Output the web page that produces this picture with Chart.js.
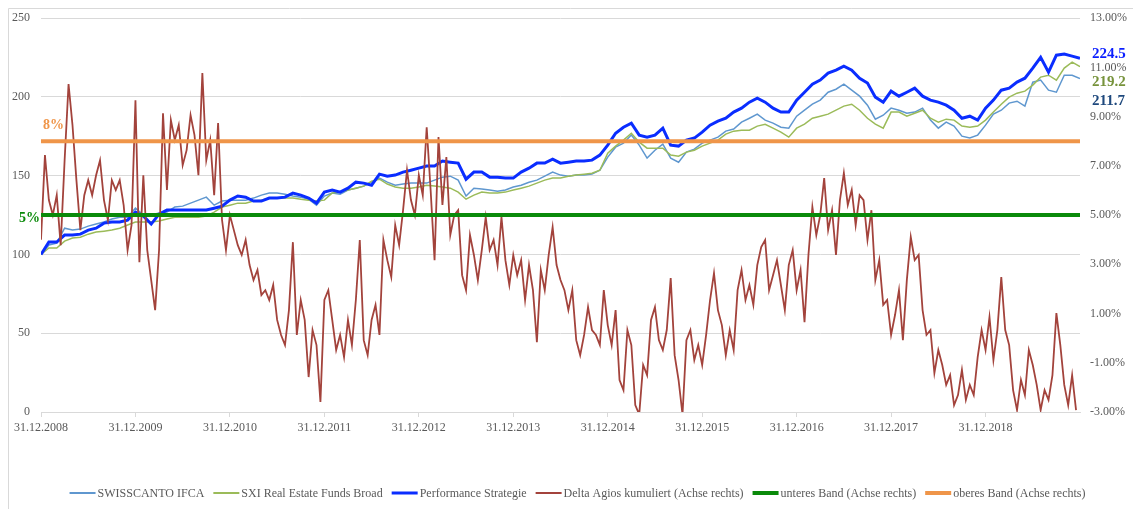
<!DOCTYPE html>
<html>
<head>
<meta charset="utf-8">
<script src="https://cdn.jsdelivr.net/npm/chart.js@4/dist/chart.umd.min.js"></script>
<style>
  html, body { margin: 0; padding: 0; background: #fff; }
  canvas { display: block; }
</style>
</head>
<body>
<canvas id="chart" width="1133" height="509"></canvas>
<script>
// year ticks on the x axis (years after 31.12.2008)
const xTickLabels = ['31.12.2008', '31.12.2009', '31.12.2010', '31.12.2011', '31.12.2012', '31.12.2013',
    '31.12.2014', '31.12.2015', '31.12.2016', '31.12.2017', '31.12.2018'];
const xEnd = 11;

// monthly index values (left axis)
const swisscanto = [
    100, 106.0, 107.2, 116.7, 115.5, 116.1, 118.0, 119.3, 120.6, 122.5, 123.7, 123.7,
    129.4, 125.0, 125.0, 126.3, 126.9, 130.1, 130.7, 132.6, 134.5, 136.4, 131.3, 133.9,
    134.5, 134.5, 134.5, 135.8, 137.7, 139.0, 139.0, 138.3, 137.1, 136.4, 135.1, 131.3,
    137.1, 139.0, 138.3, 140.9, 142.1, 143.4, 145.9, 148.5, 145.9, 144.0, 144.7, 145.3,
    145.3, 145.3, 147.2, 149.1, 149.7, 147.2, 137.1, 142.1, 141.5, 140.9, 140.2, 140.9,
    142.8, 144.0, 145.9, 147.2, 149.7, 152.3, 150.4, 149.7, 150.4, 150.4, 151.0, 153.5,
    161.8, 168.1, 170.7, 175.8, 169.4, 161.2, 166.2, 170.0, 161.2, 158.6, 165.0, 166.9,
    170.7, 172.6, 174.5, 178.3, 179.6, 184.0, 186.5, 189.1, 185.3, 183.4, 180.8, 180.2,
    187.8, 191.6, 195.4, 198.0, 203.0, 204.9, 208.1, 204.3, 200.5, 194.8, 185.9, 188.4,
    192.9, 191.6, 189.7, 190.4, 192.9, 185.3, 180.2, 184.0, 181.5, 175.1, 173.9, 175.8,
    182.1, 189.1, 191.6, 196.1, 197.3, 194.2, 209.4, 210.7, 204.3, 203.0, 213.8, 213.8,
    211.7
];
const sxiBroad = [
    100, 104.1, 104.1, 108.5, 110.4, 111.0, 112.9, 114.2, 114.8, 115.5, 116.7, 118.7,
    120.6, 120.6, 120.6, 121.2, 122.5, 123.7, 123.7, 123.7, 123.7, 124.4, 126.9, 130.1,
    131.3, 132.6, 132.6, 133.9, 134.5, 135.8, 135.8, 135.8, 135.8, 135.1, 134.5, 133.9,
    134.5, 139.0, 139.6, 140.9, 142.1, 143.4, 146.6, 147.8, 144.7, 142.8, 142.1, 142.1,
    142.8, 144.0, 143.4, 142.8, 142.1, 139.6, 135.1, 137.7, 139.6, 139.0, 139.0, 139.6,
    140.9, 142.1, 143.4, 145.3, 147.2, 148.5, 148.5, 149.7, 150.4, 151.0, 151.6, 153.5,
    164.3, 168.8, 172.6, 177.0, 171.3, 167.5, 167.5, 167.5, 163.1, 162.4, 165.0, 166.2,
    168.8, 170.7, 172.6, 176.4, 178.3, 178.9, 178.9, 181.5, 182.7, 180.2, 177.7, 174.5,
    180.2, 182.7, 186.5, 187.8, 189.1, 191.6, 194.2, 195.4, 191.6, 186.5, 182.7, 180.2,
    190.4, 190.4, 187.8, 189.7, 191.6, 186.5, 184.0, 185.9, 185.3, 181.5, 180.8, 181.5,
    185.3, 190.4, 195.4, 199.9, 202.4, 203.7, 207.5, 212.6, 213.8, 210.7, 218.3, 222.1,
    219.2
];
const performance = [
    100, 107.9, 107.9, 112.3, 112.3, 112.9, 115.5, 116.7, 119.9, 120.6, 120.6, 121.8,
    126.9, 124.4, 119.3, 125.6, 128.2, 128.2, 128.2, 128.2, 128.2, 128.2, 129.4, 130.7,
    134.5, 137.1, 136.4, 133.9, 133.9, 135.8, 135.8, 136.4, 139.0, 137.7, 135.8, 132.6,
    139.6, 140.9, 139.6, 142.1, 145.9, 145.3, 144.0, 151.0, 149.7, 150.4, 152.3, 153.5,
    154.8, 156.1, 156.1, 159.3, 158.6, 158.0, 147.8, 152.3, 152.3, 149.1, 149.1, 148.5,
    148.5, 152.3, 154.8, 158.0, 158.0, 160.5, 158.0, 158.6, 159.3, 159.3, 159.9, 163.1,
    169.4, 177.0, 180.8, 183.4, 175.8, 174.5, 175.8, 180.2, 169.4, 168.8, 172.6, 173.9,
    177.7, 182.1, 184.6, 186.5, 190.4, 192.9, 196.7, 199.2, 196.7, 192.9, 190.4, 190.4,
    198.0, 203.0, 208.1, 210.7, 215.1, 217.0, 219.5, 217.0, 211.9, 208.8, 199.9, 196.7,
    203.7, 200.5, 203.0, 205.6, 200.5, 198.0, 196.7, 194.8, 191.6, 186.5, 187.8, 185.3,
    192.9, 198.0, 204.3, 205.6, 209.4, 211.9, 218.3, 225.2, 215.7, 226.5, 227.2, 225.9,
    224.5
];

// half-monthly cumulated agio delta in % (right axis)
const deltaAgios = [
    4.0, 7.44, 5.61, 5.0, 5.81, 3.78, 7.23, 10.32, 8.66, 6.42, 4.39, 5.81, 6.42, 5.81, 6.62, 7.23, 5.61, 4.80, 6.42, 6.02, 6.42, 5.41, 3.58, 4.59,
    9.67, 3.09, 6.62, 3.58, 2.36, 1.14, 3.58, 9.14, 6.02, 8.86, 8.05, 8.66, 7.03, 7.64, 9.06, 8.25, 6.62, 10.77, 7.23, 8.05, 5.81, 8.74, 4.80, 3.58,
    5.0, 4.39, 3.78, 3.38, 3.99, 2.97, 2.36, 2.77, 1.75, 1.95, 1.55, 2.16, 0.74, 0.13, -0.28, 1.14, 3.90, 0.13, 1.55, 0.74, -1.58, 0.33, -0.28, -2.59,
    1.55, 1.95, 0.74, -0.48, 0.13, -0.77, 0.74, -0.28, 1.55, 3.99, -0.08, -0.69, 0.74, 1.35, 0.13, 3.99, 3.17, 2.48, 4.59, 3.78, 5.20, 6.83, 5.61, 5.0,
    6.62, 5.81, 8.57, 6.02, 3.17, 8.17, 5.41, 7.36, 4.19, 5.0, 5.20, 2.56, 1.95, 4.19, 3.38, 2.36, 3.58, 4.92, 3.58, 3.99, 2.97, 4.92, 3.17, 2.16,
    3.38, 2.56, 3.17, 1.55, 2.97, 1.95, -0.16, 2.77, 1.95, 3.38, 4.51, 2.97, 2.36, 1.95, 1.14, 1.95, -0.08, -0.69, 0.13, 1.26, 0.33, 0.13, -0.28, 1.95,
    0.53, -0.28, 1.14, -1.70, -2.11, 0.33, -0.28, -2.72, -3.1, -1.09, -1.50, 0.74, 1.26, -0.08, -0.48, 0.33, 2.44, -0.69, -1.70, -3.1, -0.08, 0.33, -0.89, -0.28,
    -1.09, 0.13, 1.55, 2.64, 1.14, 0.53, -0.69, 0.33, -0.48, 1.95, 2.77, 1.55, 2.16, 1.35, 2.97, 3.70, 3.99, 1.95, 2.56, 3.17, 2.16, 1.14, 2.97, 3.58,
    1.95, 2.77, 0.65, 3.38, 5.33, 4.19, 5.0, 6.50, 4.39, 5.20, 3.38, 5.61, 6.71, 5.41, 6.02, 4.59, 5.81, 5.61, 3.99, 5.20, 2.36, 3.17, 1.35, 1.55,
    0.13, 0.94, 1.95, -0.08, 2.36, 4.11, 3.17, 3.38, 1.14, 0.13, 0.33, -1.42, -0.48, -1.09, -1.90, -1.50, -2.72, -2.31, -1.29, -2.51, -1.90, -2.31, -0.77, 0.33,
    -0.48, 0.86, -0.89, 0.33, 2.48, 0.33, -0.28, -2.11, -2.92, -1.70, -2.31, -0.48, -1.09, -1.90, -2.92, -2.11, -2.51, -1.50, 1.02, -0.28, -1.90, -2.72, -1.50, -2.92
];

// bands (right axis), drawn from start to end
const lowerBand = [5, 5];
const upperBand = [8, 8];

const serif = "'Liberation Serif', 'Times New Roman', serif";
const grey = '#595959';

const colors = {
    swisscanto: '#5f97cf',
    sxi: '#9bbb59',
    perf: '#0a2dff',
    delta: '#a3433c',
    lower: '#0a8a0a',
    upper: '#ef9549',
};

function monthly(values) {
    return values.map((v, i) => ({x: i / 12, y: v}));
}

function halfMonthly(values) {
    return values.map((v, i) => ({x: i / 24, y: v}));
}

function band(values) {
    return values.map((v, i) => ({x: i * xEnd / (values.length - 1), y: v}));
}

const frameAndLabels = {
    id: 'frameAndLabels',
    beforeDraw(chart) {
        const {ctx} = chart;
        ctx.save();
        ctx.strokeStyle = '#d9d9d9';
        ctx.lineWidth = 1;
        ctx.beginPath();
        ctx.moveTo(8.5, chart.height);
        ctx.lineTo(8.5, 8.5);
        ctx.lineTo(chart.width, 8.5);
        ctx.stroke();
        ctx.restore();
    },
    afterDraw(chart) {
        const {ctx, chartArea, scales} = chart;
        ctx.save();
        // band labels
        ctx.font = `bold 14px ${serif}`;
        ctx.textBaseline = 'middle';
        ctx.fillStyle = colors.upper;
        ctx.textAlign = 'left';
        ctx.fillText(upperBand[0] + '%', chartArea.left + 2, scales.y2.getPixelForValue(upperBand[0]) - 16);
        ctx.fillStyle = colors.lower;
        ctx.textAlign = 'right';
        ctx.fillText(lowerBand[0] + '%', chartArea.left - 1, scales.y2.getPixelForValue(lowerBand[0]) + 3);

        // last values at the right
        ctx.font = `bold 15px ${serif}`;
        ctx.textAlign = 'left';
        const ends = [
            {v: performance[performance.length - 1], color: '#0a1eff', dy: -4},
            {v: sxiBroad[sxiBroad.length - 1], color: '#77933c', dy: 15},
            {v: swisscanto[swisscanto.length - 1], color: '#1f497d', dy: 23},
        ];
        for (const e of ends) {
            ctx.fillStyle = e.color;
            ctx.fillText(e.v.toFixed(1), chartArea.right + 12, scales.y.getPixelForValue(e.v) + e.dy);
        }

        // legend
        const items = chart.data.datasets.map(ds => ({label: ds.label, color: ds.borderColor, width: ds.legendWidth}));
        ctx.font = `12px ${serif}`;
        ctx.textAlign = 'left';
        const sample = 26, gapText = 2, gapItem = 9;
        const widths = items.map(it => sample + gapText + ctx.measureText(it.label).width);
        const total = widths.reduce((a, b) => a + b, 0) + gapItem * (items.length - 1);
        let x = (chartArea.left + chartArea.right) / 2 + 17 - total / 2;
        const y = 494;
        items.forEach((it, i) => {
            ctx.strokeStyle = it.color;
            ctx.lineWidth = it.width;
            ctx.beginPath();
            ctx.moveTo(x, y - 1);
            ctx.lineTo(x + sample, y - 1);
            ctx.stroke();
            ctx.fillStyle = grey;
            ctx.fillText(it.label, x + sample + gapText, y);
            x += widths[i] + gapItem;
        });
        ctx.restore();
    }
};

const line = (label, data, color, width, axis, order, legendWidth) => ({
    label, data, borderColor: color, backgroundColor: color, borderWidth: width,
    yAxisID: axis, order, pointRadius: 0, tension: 0, fill: false, legendWidth,
});

new Chart(document.getElementById('chart').getContext('2d'), {
    type: 'line',
    data: {
        datasets: [
            line('SWISSCANTO IFCA', monthly(swisscanto), colors.swisscanto, 1.5, 'y', 6, 2),
            line('SXI Real Estate Funds Broad', monthly(sxiBroad), colors.sxi, 1.5, 'y', 5, 2),
            line('Performance Strategie', monthly(performance), colors.perf, 3, 'y', 4, 3),
            line('Delta Agios kumuliert (Achse rechts)', halfMonthly(deltaAgios), colors.delta, 1.8, 'y2', 3, 2),
            line('unteres Band (Achse rechts)', band(lowerBand), colors.lower, 4, 'y2', 2, 4),
            line('oberes Band (Achse rechts)', band(upperBand), colors.upper, 4, 'y2', 1, 4),
        ]
    },
    options: {
        responsive: false,
        animation: false,
        devicePixelRatio: 1,
        layout: {padding: {top: 18, left: 0, right: 0, bottom: 0}},
        scales: {
            x: {
                type: 'linear',
                min: 0,
                max: xEnd,
                afterFit: s => { s.height = 97; },
                afterBuildTicks: s => { s.ticks = xTickLabels.map((_, i) => ({value: i})); },
                grid: {drawOnChartArea: false, color: '#d9d9d9', tickLength: 5},
                border: {color: '#d9d9d9'},
                ticks: {
                    callback: (v) => xTickLabels[v],
                    color: grey,
                    font: {family: serif, size: 12},
                    padding: 4,
                    maxRotation: 0,
                    autoSkip: false,
                }
            },
            y: {
                position: 'left',
                min: 0,
                max: 250,
                afterFit: s => { s.width = 41; },
                grid: {color: '#d9d9d9', drawTicks: false},
                border: {display: false},
                ticks: {stepSize: 50, color: grey, font: {family: serif, size: 12}, padding: 11}
            },
            y2: {
                position: 'right',
                min: -3,
                max: 13,
                afterFit: s => { s.width = 53; },
                grid: {display: false, drawTicks: false},
                border: {display: false},
                ticks: {
                    stepSize: 2,
                    callback: v => v.toFixed(2) + '%',
                    color: grey,
                    font: {family: serif, size: 12},
                    padding: 10
                }
            }
        },
        plugins: {
            legend: {display: false},
            tooltip: {enabled: false}
        }
    },
    plugins: [frameAndLabels]
});
</script>
</body>
</html>
